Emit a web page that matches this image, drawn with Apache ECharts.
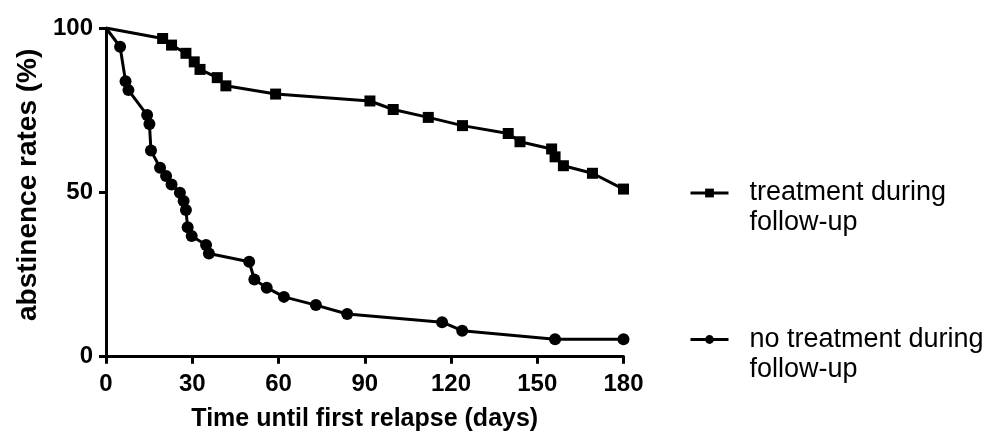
<!DOCTYPE html>
<html>
<head>
<meta charset="utf-8">
<script src="https://cdn.jsdelivr.net/npm/echarts@6/dist/echarts.min.js"></script>
<style>html,body{margin:0;padding:0;background:#fff}#c{width:994px;height:435px}</style>
</head>
<body>
<div id="c"></div>
<script>
const xTicks = [0, 30, 60, 90, 120, 150, 180];
const yTicks = [0, 50, 100];
const treatDays = [0, 19.7, 22.8, 27.8, 30.7, 32.7, 38.7, 41.7, 59.0, 91.8, 99.9, 112.1, 124.0, 139.9, 144.0, 155.0, 156.2, 159.1, 169.2, 180];
const treatPct = [100, 96.8, 94.8, 92.3, 89.7, 87.4, 84.9, 82.4, 79.9, 77.8, 75.2, 72.8, 70.3, 67.9, 65.4, 63.2, 60.8, 58.1, 55.8, 51.0];
const noTreatDays = [0, 4.9, 6.8, 7.8, 14.3, 15.1, 15.65, 18.8, 20.9, 22.8, 25.7, 27.0, 27.8, 28.4, 29.8, 34.8, 35.8, 49.8, 51.6, 55.9, 61.9, 73.0, 83.9, 116.9, 123.9, 156.2, 180];
const noTreatPct = [100, 94.3, 83.8, 81.1, 73.5, 70.8, 62.7, 57.5, 55.0, 52.4, 49.9, 47.4, 44.6, 39.4, 36.7, 34.0, 31.4, 28.9, 23.5, 21.0, 18.2, 15.7, 13.0, 10.5, 7.9, 5.3, 5.3];
const seriesNames = ['treatment during\nfollow-up', 'no treatment during\nfollow-up'];

const FONT = 'Arial, "Liberation Sans", sans-serif';
function pts(xs, ys) {
  return xs.map((x, i) => i === 0 ? { value: [x, ys[i]], symbol: 'none' } : [x, ys[i]]);
}
const chart = echarts.init(document.getElementById('c'), null, { renderer: 'canvas' });
const legendBase = {
  orient: 'vertical',
  itemWidth: 38,
  itemHeight: 11,
  padding: 0,
  selectedMode: false,
  formatter: name => '\n' + name,
  lineStyle: { width: 3, color: '#000' },
  itemStyle: { color: '#000' },
  textStyle: { fontFamily: FONT, fontSize: 27, color: '#000', lineHeight: 30, padding: [0, 0, 0, 16] }
};
chart.setOption({
  animation: false,
  backgroundColor: '#fff',
  grid: { left: 106, right: 370.5, top: 28, bottom: 78.3, containLabel: false, outerBoundsMode: 'none' },
  legend: [
    Object.assign({}, legendBase, { data: [seriesNames[0]], left: 689, top: 148 }),
    Object.assign({}, legendBase, { data: [seriesNames[1]], left: 689, top: 294.5 })
  ],
  xAxis: {
    type: 'value', min: xTicks[0], max: xTicks[xTicks.length - 1], interval: 30,
    name: 'Time until first relapse (days)', nameLocation: 'middle', nameGap: 50,
    nameTextStyle: { fontFamily: FONT, fontSize: 25, fontWeight: 'bold', color: '#000' },
    axisLine: { lineStyle: { color: '#000', width: 3 } },
    axisTick: { show: true, length: 7, lineStyle: { color: '#000', width: 3 } },
    axisLabel: { fontFamily: FONT, fontSize: 24, fontWeight: 'bold', color: '#000', margin: 16 },
    splitLine: { show: false }
  },
  yAxis: {
    type: 'value', min: yTicks[0], max: yTicks[yTicks.length - 1], interval: 50,
    name: 'abstinence rates (%)', nameLocation: 'middle', nameGap: 64, nameRotate: 90,
    nameTextStyle: { fontFamily: FONT, fontSize: 28, fontWeight: 'bold', color: '#000', padding: [0, 0, 0, 15] },
    axisLine: { show: true, lineStyle: { color: '#000', width: 3 } },
    axisTick: { show: true, length: 7, lineStyle: { color: '#000', width: 3 } },
    axisLabel: { fontFamily: FONT, fontSize: 24, fontWeight: 'bold', color: '#000', margin: 13 },
    splitLine: { show: false }
  },
  series: [
    {
      name: seriesNames[0], type: 'line', data: pts(treatDays, treatPct),
      symbol: 'rect', symbolSize: 11, showAllSymbol: true,
      lineStyle: { color: '#000', width: 3 }, itemStyle: { color: '#000' }
    },
    {
      name: seriesNames[1], type: 'line', data: pts(noTreatDays, noTreatPct),
      symbol: 'circle', symbolSize: 12, showAllSymbol: true,
      lineStyle: { color: '#000', width: 3 }, itemStyle: { color: '#000' }
    }
  ]
});
</script>
</body>
</html>
